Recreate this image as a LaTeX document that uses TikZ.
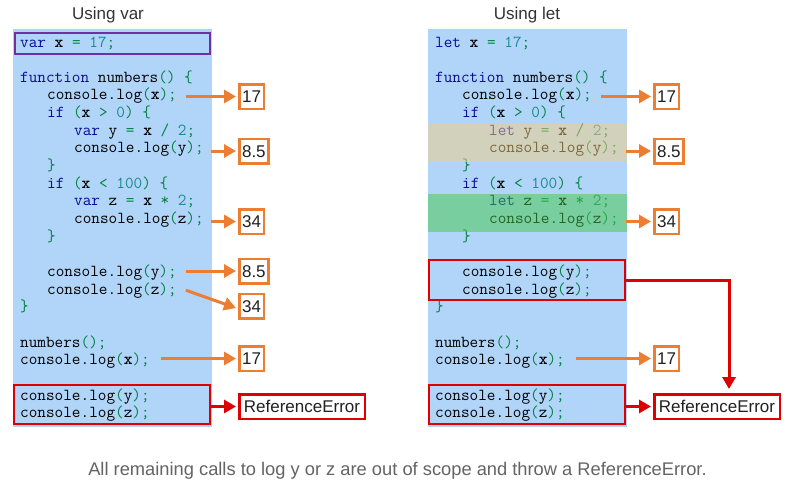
\documentclass[tikz,border=0pt]{standalone}
\usepackage{fontspec}
\setmainfont{Liberation Sans}
\usetikzlibrary{arrows.meta,calc}
\definecolor{panelc}{RGB}{176,213,248}
\definecolor{tanov}{RGB}{244,207,128}
\definecolor{greenov}{RGB}{68,201,72}
\definecolor{kwc}{RGB}{10,10,150}
\definecolor{opc}{RGB}{0,128,64}
\definecolor{numc}{RGB}{26,138,138}
\definecolor{orangec}{RGB}{237,125,49}
\definecolor{redc}{RGB}{222,0,0}
\definecolor{purplec}{RGB}{112,48,160}
\definecolor{titlec}{RGB}{51,51,51}
\definecolor{capc}{RGB}{100,100,100}
\newcommand\kw[1]{\textcolor{kwc}{#1}}
\newcommand\op[1]{\textcolor{opc}{#1}}
\newcommand\nm[1]{\textcolor{numc}{#1}}
\newcommand\vx{\textbf{x}}
\tikzset{
  codeline/.style={anchor=base west, inner sep=0pt, text=black,
    font=\ttfamily\fontsize{16.76}{19}\selectfont},
  numbox/.style={draw=orangec, line width=2.5pt, fill=white, anchor=west,
    inner xsep=2.8pt, inner ysep=0pt, minimum height=24.5pt,
    text height=12.2pt, text depth=0pt, text=black!87,
    font=\fontsize{17}{20}\selectfont},
  errbox/.style={numbox, draw=redc, minimum width=125.5pt},
  redframe/.style={draw=redc, line width=2.5pt, inner sep=0pt,
    minimum width=196pt},
  oarr/.style={draw=orangec, line width=3pt, -{Triangle[length=12pt,width=13pt]}},
  rarr/.style={draw=redc, line width=3pt, -{Triangle[length=12pt,width=13pt]}},
  titletext/.style={text=titlec, font=\fontsize{17}{20}\selectfont},
}
\begin{document}
\begin{tikzpicture}[x=1pt,y=-1pt]
\useasboundingbox (0,0) rectangle (793,496);
\fill[white] (0,0) rectangle (793,496);
% titles
\node[titletext] (t1) at (108,15) {Using var};
\node[titletext] (t2) at (527,15) {Using let};
% panels
\fill[panelc] (13,29) rectangle (212,427);
\fill[panelc] (428,29) rectangle (627,427);
% ---------- left code ----------
\node[codeline] (L0) at (20,{47+17.65*0}) {\kw{var} \vx{} \op{=} \nm{17}\op{;}};
\node[codeline] (L2) at (20,{47+17.65*2}) {\kw{function} numbers\op{()} \op{\{}};
\node[codeline] (L3) at (47,{47+17.65*3}) {console.log\op{(}\vx\op{);}};
\node[codeline] (L4) at (47,{47+17.65*4}) {\kw{if} \op{(}\vx{} \op{>} \nm{0}\op{)} \op{\{}};
\node[codeline] (L5) at (74,{47+17.65*5}) {\kw{var} y \op{=} \vx{} \op{/} \nm{2}\op{;}};
\node[codeline] (L6) at (74,{47+17.65*6}) {console.log\op{(}y\op{);}};
\node[codeline] (L7) at (47,{47+17.65*7}) {\op{\}}};
\node[codeline] (L8) at (47,{47+17.65*8}) {\kw{if} \op{(}\vx{} \op{<} \nm{100}\op{)} \op{\{}};
\node[codeline] (L9) at (74,{47+17.65*9}) {\kw{var} z \op{=} \vx{} \op{*} \nm{2}\op{;}};
\node[codeline] (L10) at (74,{47+17.65*10}) {console.log\op{(}z\op{);}};
\node[codeline] (L11) at (47,{47+17.65*11}) {\op{\}}};
\node[codeline] (L13) at (47,{47+17.65*13}) {console.log\op{(}y\op{);}};
\node[codeline] (L14) at (47,{47+17.65*14}) {console.log\op{(}z\op{);}};
\node[codeline] (L15) at (20,{47+17.65*15}) {\op{\}}};
\node[codeline] (L17) at (20,{47+17.65*17}) {numbers\op{();}};
\node[codeline] (L18) at (20,{47+17.65*18}) {console.log\op{(}\vx\op{);}};
\node[codeline] (L20) at (20,{47+17.65*20}) {console.log\op{(}y\op{);}};
\node[codeline] (L21) at (20,{47+17.65*21}) {console.log\op{(}z\op{);}};
% ---------- right code ----------
\node[codeline] (R0) at (435,{47+17.65*0}) {\kw{let} \vx{} \op{=} \nm{17}\op{;}};
\node[codeline] (R2) at (435,{47+17.65*2}) {\kw{function} numbers\op{()} \op{\{}};
\node[codeline] (R3) at (462,{47+17.65*3}) {console.log\op{(}\vx\op{);}};
\node[codeline] (R4) at (462,{47+17.65*4}) {\kw{if} \op{(}\vx{} \op{>} \nm{0}\op{)} \op{\{}};
\node[codeline] (R5) at (489,{47+17.65*5}) {\kw{let} y \op{=} \vx{} \op{/} \nm{2}\op{;}};
\node[codeline] (R6) at (489,{47+17.65*6}) {console.log\op{(}y\op{);}};
\node[codeline] (R7) at (462,{47+17.65*7}) {\op{\}}};
\node[codeline] (R8) at (462,{47+17.65*8}) {\kw{if} \op{(}\vx{} \op{<} \nm{100}\op{)} \op{\{}};
\node[codeline] (R9) at (489,{47+17.65*9}) {\kw{let} z \op{=} \vx{} \op{*} \nm{2}\op{;}};
\node[codeline] (R10) at (489,{47+17.65*10}) {console.log\op{(}z\op{);}};
\node[codeline] (R11) at (462,{47+17.65*11}) {\op{\}}};
\node[codeline] (R13) at (462,{47+17.65*13}) {console.log\op{(}y\op{);}};
\node[codeline] (R14) at (462,{47+17.65*14}) {console.log\op{(}z\op{);}};
\node[codeline] (R15) at (435,{47+17.65*15}) {\op{\}}};
\node[codeline] (R17) at (435,{47+17.65*17}) {numbers\op{();}};
\node[codeline] (R18) at (435,{47+17.65*18}) {console.log\op{(}\vx\op{);}};
\node[codeline] (R20) at (435,{47+17.65*20}) {console.log\op{(}y\op{);}};
\node[codeline] (R21) at (435,{47+17.65*21}) {console.log\op{(}z\op{);}};
% block-scope overlays
\fill[tanov, fill opacity=0.5] (428,124) rectangle (627,162);
\fill[greenov, fill opacity=0.5] (428,194) rectangle (627,232);
% purple frame
\draw[purplec, line width=2.5pt] (15.2,33.2) rectangle (209.8,53.8);
% red frames
\node[redframe, minimum height=39pt] (rbL) at (112,404.5) {};
\node[redframe, minimum height=40pt] (rbR1) at (527,280) {};
\node[redframe, minimum height=39pt] (rbR2) at (527,404.5) {};
% ---------- left result boxes ----------
\node[numbox] (b1) at (238,96.5) {17};
\node[numbox] (b2) at (238,151) {8.5};
\node[numbox] (b3) at (238,221.5) {34};
\node[numbox] (b4) at (238,271) {8.5};
\node[numbox] (b5) at (238,306) {34};
\node[numbox] (b6) at (238,358.5) {17};
\node[errbox] (e1) at (238,406.5) {ReferenceError};
% ---------- right result boxes ----------
\node[numbox] (c1) at (653,96.5) {17};
\node[numbox] (c2) at (653,151) {8.5};
\node[numbox] (c3) at (653,221.5) {34};
\node[numbox] (c6) at (653,358.5) {17};
\node[errbox] (e2) at (653,406.5) {ReferenceError};
% ---------- left arrows ----------
\draw[oarr] ([xshift=9pt]L3.east |- b1.west) -- ([xshift=-2pt]b1.west);
\draw[oarr] ([xshift=7pt]L6.east |- b2.west) -- ([xshift=-2pt]b2.west);
\draw[oarr] ([xshift=7pt]L10.east |- b3.west) -- ([xshift=-2pt]b3.west);
\draw[oarr] ([xshift=9pt]L13.east |- b4.west) -- ([xshift=-2pt]b4.west);
\draw[oarr] ([xshift=9pt]L14.east) -- ([xshift=-2pt,yshift=-2pt]b5.west);
\draw[oarr] ([xshift=11pt]L18.east |- b6.west) -- ([xshift=-2pt]b6.west);
\draw[rarr] (rbL.east |- e1.west) -- ([xshift=-2pt]e1.west);
% ---------- right arrows ----------
\draw[oarr] ([xshift=9pt]R3.east |- c1.west) -- ([xshift=-2pt]c1.west);
\draw[oarr] ([xshift=7pt]R6.east |- c2.west) -- ([xshift=-2pt]c2.west);
\draw[oarr] ([xshift=7pt]R10.east |- c3.west) -- ([xshift=-2pt]c3.west);
\draw[oarr] ([xshift=11pt]R18.east |- c6.west) -- ([xshift=-2pt]c6.west);
\draw[rarr] (rbR2.east |- e2.west) -- ([xshift=-2pt]e2.west);
\draw[rarr] (rbR1.east) -| ([xshift=12pt,yshift=4pt]e2.north);
% caption
\node[text=capc, anchor=base, inner sep=0pt, font=\fontsize{18.3}{21}\selectfont] (cap) at (397.5,475.3)
  {All remaining calls to log y or z are out of scope and throw a ReferenceError.};
\end{tikzpicture}
\end{document}
